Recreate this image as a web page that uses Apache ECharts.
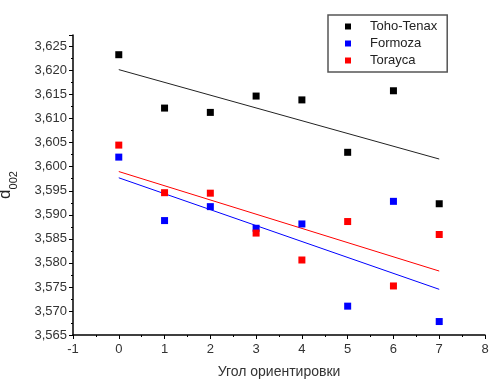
<!DOCTYPE html>
<html>
<head>
<meta charset="utf-8">
<script src="https://cdn.jsdelivr.net/npm/echarts@6/dist/echarts.min.js"></script>
<style>
  html, body { margin: 0; padding: 0; background: #fff; }
  #chart { width: 489px; height: 380px; }
</style>
</head>
<body>
<div id="chart"></div>
<script>
// угол ориентировки
var angles = [0, 1, 2, 3, 4, 5, 6, 7];
var tohoTenax = [3.6233, 3.6122, 3.6113, 3.6147, 3.6139, 3.6030, 3.6158, 3.5923];
var formoza = [3.6020, 3.5888, 3.5917, 3.5872, 3.5881, 3.5710, 3.5928, 3.5678];
var torayca = [3.6045, 3.5946, 3.5945, 3.5862, 3.5806, 3.5886, 3.5752, 3.5859];
// linear fit lines (ends at x=0 and x=7)
var fitX = [0, 7];
var tohoFit = [3.6202, 3.6016];
var formozaFit = [3.5977, 3.5745];
var toraycaFit = [3.5990, 3.5783];

function pairs(xs, ys) {
  return xs.map(function (x, i) { return [x, ys[i]]; });
}

var chart = echarts.init(document.getElementById("chart"));
var font = "Liberation Sans";

chart.setOption({
  animation: false,
  textStyle: { fontFamily: font },
  grid: { left: 73, top: 35, right: 4, bottom: 45, outerBoundsMode: "none", containLabel: false },
  legend: {
    orient: "vertical",
    left: 328,
    top: 15,
    width: 125,
    padding: [5, 10, 5, 17],
    itemGap: 4,
    itemWidth: 6,
    itemHeight: 6,
    icon: "rect",
    borderColor: "#555",
    borderWidth: 1.5,
    textStyle: { fontSize: 13, color: "#222", fontFamily: font, padding: [0, 0, 0, 14] },
    data: ["Toho-Tenax", "Formoza", "Torayca"]
  },
  xAxis: {
    type: "value",
    min: -1,
    max: 8,
    interval: 1,
    name: "Угол ориентировки",
    nameLocation: "middle",
    nameGap: 30,
    nameTextStyle: { fontSize: 14, color: "#333" },
    axisLine: { onZero: false, lineStyle: { color: "#000", width: 1.5 } },
    axisTick: { length: 4, lineStyle: { color: "#000" } },
    minorTick: { show: true, splitNumber: 2, length: 2, lineStyle: { color: "#000" } },
    axisLabel: { fontSize: 13, color: "#333", margin: 8 },
    splitLine: { show: false }
  },
  yAxis: {
    type: "value",
    min: 3.565,
    max: 3.6274,
    interval: 0.005,
    name: "{d|d}{s|002}",
    nameLocation: "middle",
    nameRotate: 90,
    nameGap: 54,
    nameTextStyle: {
      rich: {
        d: { fontSize: 17, color: "#222", verticalAlign: "top", lineHeight: 22 },
        s: { fontSize: 11, color: "#222", verticalAlign: "bottom", lineHeight: 11 }
      }
    },
    axisLine: { onZero: false, lineStyle: { color: "#000", width: 1.5 } },
    axisTick: { length: 4, lineStyle: { color: "#000" } },
    minorTick: { show: true, splitNumber: 2, length: 2, lineStyle: { color: "#000" } },
    axisLabel: {
      fontSize: 13,
      color: "#333",
      margin: 6,
      showMaxLabel: false,
      formatter: function (v) { return v.toFixed(3).replace(".", ","); }
    },
    splitLine: { show: false }
  },
  series: [
    {
      name: "Toho-Tenax", type: "line", data: pairs(fitX, tohoFit), symbol: "none",
      lineStyle: { color: "#222", width: 1 }, itemStyle: { color: "#000" }, z: 1
    },
    {
      name: "Formoza", type: "line", data: pairs(fitX, formozaFit), symbol: "none",
      lineStyle: { color: "#0000ff", width: 1 }, itemStyle: { color: "#0000ff" }, z: 1
    },
    {
      name: "Torayca", type: "line", data: pairs(fitX, toraycaFit), symbol: "none",
      lineStyle: { color: "#ff0000", width: 1 }, itemStyle: { color: "#ff0000" }, z: 1
    },
    {
      name: "Toho-Tenax", type: "scatter", data: pairs(angles, tohoTenax),
      symbol: "rect", symbolSize: 7, itemStyle: { color: "#000", opacity: 1 }, z: 3
    },
    {
      name: "Formoza", type: "scatter", data: pairs(angles, formoza),
      symbol: "rect", symbolSize: 7, itemStyle: { color: "#0000ff", opacity: 1 }, z: 3
    },
    {
      name: "Torayca", type: "scatter", data: pairs(angles, torayca),
      symbol: "rect", symbolSize: 7, itemStyle: { color: "#ff0000", opacity: 1 }, z: 3
    }
  ]
});
</script>
</body>
</html>
